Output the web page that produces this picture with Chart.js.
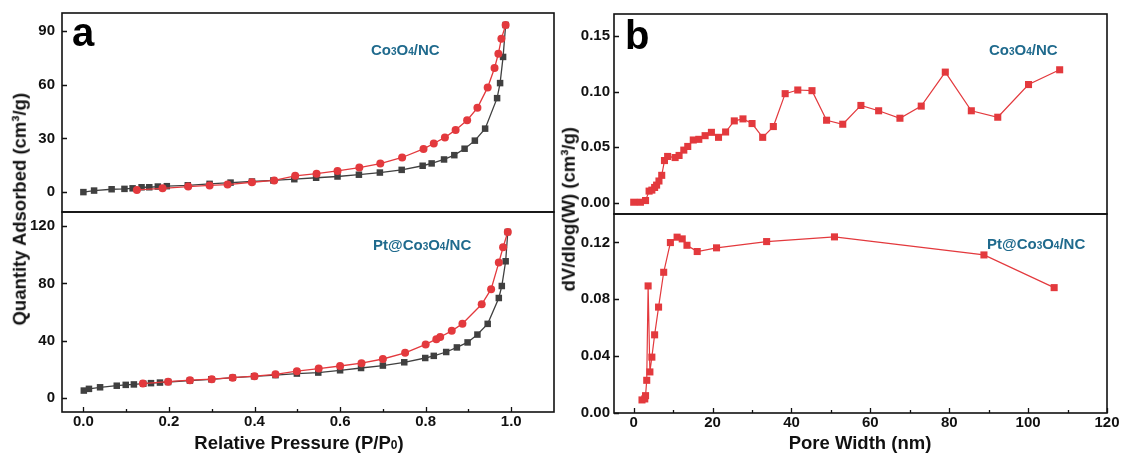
<!DOCTYPE html>
<html>
<head>
<meta charset="utf-8">
<script src="https://cdn.jsdelivr.net/npm/chart.js@4.4.1/dist/chart.umd.min.js"></script>
<style>
  html, body { margin: 0; padding: 0; background: #fff; }
  #fig { position: relative; width: 1123px; height: 459px; overflow: hidden; background: #fff;
         font-family: "Liberation Sans", Arial, sans-serif; font-weight: bold; color: #111; }
  #fig canvas { position: absolute; }
  .txt { position: absolute; white-space: nowrap; line-height: 1; }
  .tag { font-size: 15px; color: #1f6a8d; }
  .tag .s { font-size: 10px; }
  .letter { font-size: 40px; color: #000; }
  .xt { font-size: 18.5px; transform: translateX(-50%); }
  .xt .s { font-size: 12px; }
  .yt { font-size: 18.5px; width: 300px; text-align: center; transform: rotate(-90deg); }
</style>
</head>
<body>
<div id="fig">
  <canvas id="isoCo" style="left:0px;top:11px" width="556" height="202"></canvas>
  <canvas id="isoPt" style="left:0px;top:210px" width="556" height="230"></canvas>
  <canvas id="poreCo" style="left:560px;top:12px" width="563" height="203"></canvas>
  <canvas id="porePt" style="left:560px;top:212px" width="563" height="229"></canvas>

  <div class="txt letter" style="left:72px;top:12px">a</div>
  <div class="txt letter" style="left:625px;top:15px">b</div>

  <div class="txt tag" style="left:371px;top:42px">Co<span class="s">3</span>O<span class="s">4</span>/NC</div>
  <div class="txt tag" style="left:373px;top:237px">Pt@Co<span class="s">3</span>O<span class="s">4</span>/NC</div>
  <div class="txt tag" style="left:989px;top:42px">Co<span class="s">3</span>O<span class="s">4</span>/NC</div>
  <div class="txt tag" style="left:987px;top:236px">Pt@Co<span class="s">3</span>O<span class="s">4</span>/NC</div>

  <div class="txt xt" style="left:299px;top:434px">Relative Pressure (P/P<span class="s">0</span>)</div>
  <div class="txt xt" style="left:860px;top:434px">Pore Width (nm)</div>

  <div class="txt yt" style="left:-130px;top:200px">Quantity Adsorbed (cm³/g)</div>
  <div class="txt yt" style="left:419px;top:200px">dV/dlog(W) (cm³/g)</div>
</div>

<script>
// N2 sorption isotherms, Co3O4/NC (relative pressure P/P0, quantity adsorbed cm3/g)
const coAdsP = [0.000, 0.025, 0.066, 0.096, 0.115, 0.136, 0.154, 0.174, 0.195, 0.244, 0.295, 0.344, 0.394, 0.444, 0.493, 0.544, 0.594, 0.644, 0.693, 0.744, 0.793, 0.814, 0.843, 0.867, 0.891, 0.915, 0.939, 0.967, 0.974, 0.981, 0.987];
const coAdsV = [0.1, 0.95, 1.7, 1.9, 2.2, 2.8, 2.8, 3.2, 3.4, 3.9, 4.7, 5.4, 6.0, 6.6, 7.3, 8.1, 8.8, 9.8, 11.0, 12.5, 14.8, 16.1, 18.3, 20.7, 24.3, 28.8, 35.5, 52.5, 60.9, 75.5, 93.3];
const coDesP = [0.125, 0.185, 0.245, 0.295, 0.337, 0.394, 0.446, 0.495, 0.545, 0.594, 0.645, 0.694, 0.745, 0.795, 0.819, 0.845, 0.870, 0.897, 0.921, 0.945, 0.961, 0.970, 0.977, 0.987];
const coDesV = [1.3, 2.2, 3.2, 3.8, 4.3, 5.6, 6.6, 9.2, 10.4, 11.9, 13.8, 16.0, 19.4, 24.2, 27.2, 30.6, 34.8, 40.2, 47.1, 58.5, 69.3, 77.3, 85.7, 93.3];

// N2 sorption isotherms, Pt@Co3O4/NC
const ptAdsP = [0.001, 0.013, 0.039, 0.078, 0.099, 0.118, 0.140, 0.158, 0.179, 0.198, 0.249, 0.299, 0.349, 0.399, 0.449, 0.499, 0.549, 0.600, 0.649, 0.700, 0.750, 0.799, 0.819, 0.848, 0.873, 0.898, 0.921, 0.945, 0.971, 0.978, 0.987, 0.992];
const ptAdsV = [5.0, 6.2, 7.3, 8.4, 9.0, 9.3, 9.8, 10.2, 10.6, 11.0, 12.0, 12.9, 14.0, 15.0, 15.8, 16.9, 17.6, 19.2, 20.8, 22.5, 24.8, 27.8, 29.3, 32.0, 35.2, 38.7, 44.2, 51.7, 69.8, 78.2, 95.5, 116.0];
const ptDesP = [0.139, 0.198, 0.249, 0.300, 0.349, 0.400, 0.449, 0.499, 0.550, 0.600, 0.650, 0.700, 0.752, 0.800, 0.825, 0.834, 0.861, 0.886, 0.931, 0.953, 0.971, 0.981, 0.992];
const ptDesV = [9.9, 11.2, 12.3, 13.0, 14.0, 15.1, 16.4, 18.6, 20.4, 22.2, 24.2, 27.1, 31.4, 37.3, 41.0, 42.5, 46.8, 51.8, 65.4, 76.0, 94.6, 105.3, 116.0];

// Pore size distributions (pore width nm, dV/dlog(W) cm3/g)
const coPoreW = [0.0, 1.7, 3.0, 3.9, 4.6, 5.3, 5.8, 6.4, 7.1, 7.8, 8.6, 10.5, 11.5, 12.7, 13.7, 15.1, 16.5, 18.1, 19.7, 21.5, 23.3, 25.5, 27.7, 30.0, 32.7, 35.4, 38.4, 41.6, 45.2, 48.9, 53.0, 57.6, 62.1, 67.5, 72.9, 79.0, 85.6, 92.3, 100.1, 108.0];
const coPoreV = [0.0006, 0.0006, 0.0021, 0.0106, 0.0115, 0.0139, 0.0160, 0.0197, 0.0248, 0.0381, 0.0418, 0.0408, 0.0427, 0.0475, 0.0508, 0.0566, 0.0572, 0.0605, 0.0635, 0.0590, 0.0638, 0.0738, 0.0756, 0.0714, 0.0590, 0.0687, 0.0983, 0.1016, 0.1010, 0.0744, 0.0708, 0.0877, 0.0829, 0.0762, 0.0871, 0.1177, 0.0829, 0.0771, 0.1065, 0.1198];
const ptPoreW = [2.1, 2.8, 3.0, 3.3, 3.65, 4.1, 4.6, 5.3, 6.3, 7.6, 9.3, 11.0, 12.3, 13.5, 16.1, 21.0, 33.7, 50.9, 88.8, 106.6];
const ptPoreV = [0.0092, 0.0099, 0.0122, 0.0230, 0.0894, 0.0289, 0.0393, 0.0550, 0.0745, 0.0990, 0.1199, 0.1237, 0.1225, 0.1180, 0.1136, 0.1162, 0.1206, 0.1239, 0.1112, 0.0882];

// Tick values
const pTicks = [0, 0.2, 0.4, 0.6, 0.8, 1.0];
const pMinor = [0.1, 0.3, 0.5, 0.7, 0.9];
const wTicks = [0, 20, 40, 60, 80, 100, 120];
const wMinor = [10, 30, 50, 70, 90, 110];
const coIsoTicks = [0, 30, 60, 90];
const ptIsoTicks = [0, 40, 80, 120];
const coPoreTicks = [0, 0.05, 0.10, 0.15];
const ptPoreTicks = [0, 0.04, 0.08, 0.12];

const RED = '#e3393d';
const GREY = '#404040';
const FONT = { family: '"Liberation Sans", Arial, sans-serif', size: 15, weight: 'bold' };

const pts = (xs, ys) => xs.map((x, i) => ({ x, y: ys[i] }));

// frame around the plot area, with inward tick marks on the left and bottom edges
const framePlugin = {
  id: 'frame',
  afterDatasetsDraw(chart, args, o) {
    const { ctx, chartArea: a, scales } = chart;
    ctx.save();
    ctx.strokeStyle = '#111';
    ctx.lineWidth = 1.6;
    ctx.strokeRect(a.left, a.top, a.right - a.left, a.bottom - a.top);
    ctx.lineWidth = 1.3;
    ctx.beginPath();
    (o.yMajor || []).forEach(v => {
      const y = Math.round(scales.y.getPixelForValue(v)) + 0.5;
      ctx.moveTo(a.left, y); ctx.lineTo(a.left + 5, y);
    });
    (o.xMajor || []).forEach(v => {
      const x = Math.round(scales.x.getPixelForValue(v)) + 0.5;
      ctx.moveTo(x, a.bottom); ctx.lineTo(x, a.bottom - 5);
    });
    (o.xMinor || []).forEach(v => {
      const x = Math.round(scales.x.getPixelForValue(v)) + 0.5;
      ctx.moveTo(x, a.bottom); ctx.lineTo(x, a.bottom - 3);
    });
    ctx.stroke();
    ctx.restore();
  }
};

// axes keep a fixed size, so every plot area lines up across panels
const noPad = s => { s.paddingTop = 0; s.paddingBottom = 0; s.paddingLeft = 0; s.paddingRight = 0; };

function panel(id, cfg) {
  const yw = cfg.yWidth;
  const xScale = {
    type: 'linear', min: cfg.xMin, max: cfg.xMax, display: cfg.showX,
    grid: { display: false, drawTicks: false }, border: { display: false },
    ticks: { font: FONT, color: '#111', padding: 1, maxRotation: 0, autoSkip: false,
             callback: v => v.toFixed(cfg.xDec) },
    afterBuildTicks: s => { s.ticks = cfg.xTicks.map(v => ({ value: v })); },
    afterFit: s => { noPad(s); if (cfg.showX) s.height = 28; }
  };
  return new Chart(document.getElementById(id), {
    type: 'scatter',
    data: { datasets: cfg.datasets },
    options: {
      responsive: false,
      animation: false,
      devicePixelRatio: 1,
      layout: { autoPadding: false, padding: { top: 2, right: cfg.padRight, bottom: cfg.showX ? 0 : 1, left: 0 } },
      plugins: {
        legend: { display: false },
        tooltip: { enabled: false },
        frame: { yMajor: cfg.yTicks, xMajor: cfg.showX ? cfg.xTicks : [], xMinor: cfg.showX ? cfg.xMinor : [] }
      },
      scales: {
        x: xScale,
        y: {
          type: 'linear', min: cfg.yMin, max: cfg.yMax,
          grid: { display: false, drawTicks: false }, border: { display: false },
          ticks: { font: FONT, color: '#111', padding: cfg.yPad, autoSkip: false,
                   callback: v => v.toFixed(cfg.yDec) },
          afterBuildTicks: s => { s.ticks = cfg.yTicks.map(v => ({ value: v })); },
          afterFit: s => { noPad(s); s.width = yw; }
        }
      }
    },
    plugins: [framePlugin]
  });
}

const redCircle = (data) => ({ data, showLine: true, borderColor: RED, backgroundColor: RED,
  borderWidth: 1.3, pointStyle: 'circle', pointRadius: 4, pointBorderWidth: 0 });
const greySquare = (data) => ({ data, showLine: true, borderColor: GREY, backgroundColor: GREY,
  borderWidth: 1.3, pointStyle: 'rect', pointRadius: 4.6, pointBorderWidth: 0 });
const redSquare = (data) => ({ data, showLine: true, borderColor: RED, backgroundColor: RED,
  borderWidth: 1.2, pointStyle: 'rect', pointRadius: 5, pointBorderWidth: 0 });

panel('isoCo', {
  datasets: [redCircle(pts(coDesP, coDesV)), greySquare(pts(coAdsP, coAdsV))],
  xMin: -0.05, xMax: 1.1, xTicks: pTicks, xMinor: pMinor, xDec: 1, showX: false,
  yMin: -11, yMax: 100, yTicks: coIsoTicks, yDec: 0, yWidth: 62, yPad: 7, padRight: 2
});
panel('isoPt', {
  datasets: [redCircle(pts(ptDesP, ptDesV)), greySquare(pts(ptAdsP, ptAdsV))],
  xMin: -0.05, xMax: 1.1, xTicks: pTicks, xMinor: pMinor, xDec: 1, showX: true,
  yMin: -10, yMax: 130, yTicks: ptIsoTicks, yDec: 0, yWidth: 62, yPad: 7, padRight: 2
});
panel('poreCo', {
  datasets: [redSquare(pts(coPoreW, coPoreV))],
  xMin: -5, xMax: 120, xTicks: wTicks, xMinor: wMinor, xDec: 0, showX: false,
  yMin: -0.01, yMax: 0.17, yTicks: coPoreTicks, yDec: 2, yWidth: 54, yPad: 4, padRight: 16
});
panel('porePt', {
  datasets: [redSquare(pts(ptPoreW, ptPoreV))],
  xMin: -5, xMax: 120, xTicks: wTicks, xMinor: wMinor, xDec: 0, showX: true,
  yMin: 0, yMax: 0.14, yTicks: ptPoreTicks, yDec: 2, yWidth: 54, yPad: 4, padRight: 16
});
</script>
</body>
</html>
